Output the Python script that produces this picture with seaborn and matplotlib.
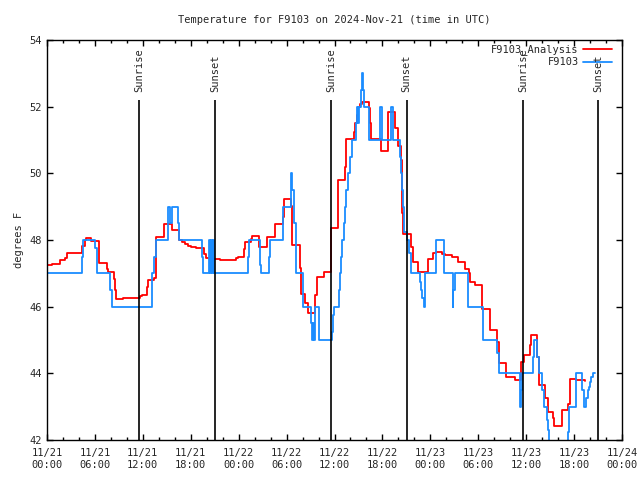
import numpy as np
import pandas as pd
import seaborn as sns
import matplotlib
matplotlib.use('Agg')
import matplotlib.pyplot as plt
import matplotlib.dates as mdates

sns.set_style('ticks')
plt.rcParams['font.family'] = ['DejaVu Sans Mono']

start = pd.Timestamp('2024-11-21 00:00')

# hours since 11/21 00:00 UTC, step values
analysis_hours = [0.0, 0.67, 1.6, 2.3, 2.5, 4.4, 4.7, 4.85, 5.5, 6.5, 7.5, 7.6, 8.35, 8.5, 8.6,
                  9.5, 11.6, 11.9, 12.5, 12.7, 13.4, 13.6, 13.65, 14.6, 15.6, 16.5, 16.9, 17.3,
                  17.6, 18.0, 18.6, 19.6, 19.7, 19.9, 20.5, 21.6, 23.7, 23.9, 24.7, 24.75, 25.5,
                  25.7, 26.5, 27.5, 27.6, 28.5, 28.6, 29.6, 29.7, 30.6, 30.65, 30.7, 31.65, 31.75,
                  32.35, 32.7, 33.6, 33.75, 34.7, 35.55, 36.5, 37.3, 37.5, 38.5, 38.6, 38.8, 39.0,
                  39.2, 39.4, 40.3, 40.4, 40.6, 41.8, 42.7, 43.6, 43.9, 44.3, 44.4, 44.5, 44.6,
                  45.6, 45.8, 46.5, 47.7, 48.3, 48.7, 49.4, 49.8, 50.7, 51.5, 52.4, 52.9, 53.0,
                  53.6, 54.5, 55.5, 56.4, 56.6, 57.5, 58.6, 59.3, 59.4, 59.7, 60.5, 60.55, 61.4,
                  61.6, 62.4, 62.7, 63.4, 63.5, 64.5, 65.3, 65.5, 66.3, 67.4]
analysis_temp = [47.24, 47.28, 47.39, 47.47, 47.6, 47.82, 48.0, 48.07, 47.98, 47.3, 47.14, 47.04,
                 46.82, 46.5, 46.22, 46.27, 46.32, 46.35, 46.6, 46.8, 46.85, 47.48, 48.1, 48.48,
                 48.29, 48.0, 47.95, 47.88, 47.82, 47.8, 47.77, 47.7, 47.57, 47.47, 47.42, 47.4,
                 47.45, 47.5, 47.73, 47.93, 48.03, 48.13, 47.8, 47.98, 48.1, 48.3, 48.47, 48.7,
                 49.22, 49.02, 48.55, 47.85, 47.15, 46.37, 46.1, 45.8, 46.35, 46.88, 47.05, 48.35,
                 49.8, 50.18, 51.02, 51.25, 51.5, 51.75, 52.0, 52.08, 52.15, 51.95, 51.5, 51.02,
                 50.68, 51.85, 51.35, 50.82, 50.4, 49.6, 48.8, 48.18, 47.8, 47.35, 47.05, 47.42,
                 47.6, 47.63, 47.58, 47.55, 47.5, 47.35, 47.12, 47.0, 46.75, 46.65, 45.92, 45.3,
                 44.95, 44.3, 43.9, 43.8, 44.1, 44.35, 44.55, 44.85, 45.15, 44.5, 43.65, 43.25,
                 42.85, 42.65, 42.43, 42.9, 43.08, 43.82, 43.8, 43.78]

obs_hours = [0.0, 4.4, 4.55, 6.0, 6.2, 6.3, 7.9, 8.1, 13.2, 13.45, 13.6, 15.1, 15.35, 15.6, 16.4,
             16.55, 19.4, 19.55, 20.3, 20.4, 20.55, 20.65, 20.8, 20.9, 25.2, 25.35, 26.7, 26.85,
             27.75, 27.9, 29.6, 30.55, 30.6, 30.7, 30.95, 31.2, 32.05, 33.0, 33.2, 33.3, 33.45,
             33.55, 34.1, 35.65, 35.8, 35.9, 36.55, 36.7, 36.85, 37.0, 37.2, 37.35, 37.5, 37.65,
             37.95, 38.2, 38.7, 38.85, 38.95, 39.1, 39.3, 39.45, 39.55, 39.7, 40.35, 41.75, 41.95,
             43.05, 43.35, 44.25, 44.35, 44.45, 44.55, 44.75, 45.1, 45.35, 45.6, 46.7, 46.85,
             47.0, 47.15, 47.3, 48.7, 49.7, 50.8, 50.9, 51.05, 52.7, 54.6, 56.4, 56.6, 59.2,
             59.35, 59.45, 60.9, 61.0, 61.4, 61.55, 62.0, 62.2, 62.6, 62.75, 62.9, 65.2, 65.4,
             66.2, 67.05, 67.2, 67.55, 67.7, 67.85, 68.0, 68.15, 68.35, 68.6]
obs_temp = [47.0, 47.5, 48.0, 47.75, 47.25, 47.0, 46.5, 46.0, 47.0, 47.5, 48.0, 49.0, 48.5, 49.0,
            48.5, 48.0, 47.5, 47.0, 48.0, 47.0, 48.0, 47.0, 48.0, 47.0, 47.5, 48.0, 47.25, 47.0,
            47.5, 48.0, 49.0, 49.5, 50.0, 49.5, 48.5, 47.0, 46.0, 45.5, 45.0, 45.5, 45.0, 46.0,
            45.0, 45.25, 45.75, 46.0, 46.5, 47.0, 47.5, 48.0, 48.5, 49.0, 49.5, 50.0, 50.5, 51.0,
            51.5, 52.0, 51.5, 52.0, 52.5, 53.0, 52.5, 52.0, 51.0, 52.0, 51.0, 52.0, 51.0, 50.5,
            50.0, 49.5, 49.0, 48.25, 48.0, 47.6, 47.0, 46.75, 46.5, 46.25, 46.0, 47.0, 48.0,
            47.0, 46.0, 46.5, 47.0, 46.0, 45.0, 44.6, 44.0, 43.0, 43.5, 44.0, 44.5, 45.0, 44.5,
            44.0, 43.5, 43.0, 42.6, 42.3, 41.5, 42.25, 43.0, 44.0, 43.5, 43.0, 43.25, 43.5,
            43.6, 43.75, 43.9, 44.0, 44.0]

sun_hours = [11.58, 21.05, 35.6, 45.03, 59.6, 69.02]
sun_labels = ['Sunrise', 'Sunset', 'Sunrise', 'Sunset', 'Sunrise', 'Sunset']

df_a = pd.DataFrame({'time': start + pd.to_timedelta(analysis_hours, unit='h'), 'temp': analysis_temp})
df_o = pd.DataFrame({'time': start + pd.to_timedelta(obs_hours, unit='h'), 'temp': obs_temp})

fig = plt.figure(figsize=(6.4, 4.8), dpi=100)
ax = fig.add_axes([47 / 640, 40 / 480, 575 / 640, 400 / 480])

sns.lineplot(data=df_a, x='time', y='temp', ax=ax, color='#ff0000', lw=1.3,
             drawstyle='steps-post', estimator=None)
sns.lineplot(data=df_o, x='time', y='temp', ax=ax, color='#1a8cff', lw=1.3,
             drawstyle='steps-post', estimator=None)

sun_times = start + pd.to_timedelta(sun_hours, unit='h')
ax.vlines(sun_times, 42, 52.2, color='black', lw=1.2)
for t, lab in zip(sun_times, sun_labels):
    ax.text(t, 52.45, lab, rotation=90, ha='center', va='bottom', fontsize=7.5)

ax.set_xlim(start, start + pd.Timedelta(hours=72))
ax.set_ylim(42, 54)
ax.set_yticks(np.arange(42, 55, 2))
ax.xaxis.set_major_locator(mdates.HourLocator(byhour=[0, 6, 12, 18]))
ax.xaxis.set_minor_locator(mdates.HourLocator(byhour=range(0, 24, 2)))
ax.xaxis.set_major_formatter(mdates.DateFormatter('%m/%d\n%H:%M'))
ax.tick_params(which='both', direction='in', top=True, right=True, labelsize=7.5, color='black')
ax.tick_params(which='major', length=4, width=1)
ax.tick_params(which='minor', length=2, width=1)
ax.tick_params(axis='x', pad=6)
for s in ax.spines.values():
    s.set_color('black')
    s.set_linewidth(1)

ax.set_xlabel('')
ax.set_ylabel('degrees F', fontsize=7.5)
ax.set_title('Temperature for F9103 on 2024-Nov-21 (time in UTC)', fontsize=7.5, pad=12)

# gnuplot-style key in the top right corner
for i, (lab, col) in enumerate([('F9103_Analysis', '#ff0000'), ('F9103', '#1a8cff')]):
    y = 0.977 - i * 0.033
    ax.text(0.925, y, lab, transform=ax.transAxes, ha='right', va='center', fontsize=7.5)
    ax.plot([0.933, 0.982], [y, y], transform=ax.transAxes, color=col, lw=1.3)

fig.savefig('out.png', dpi=100)
